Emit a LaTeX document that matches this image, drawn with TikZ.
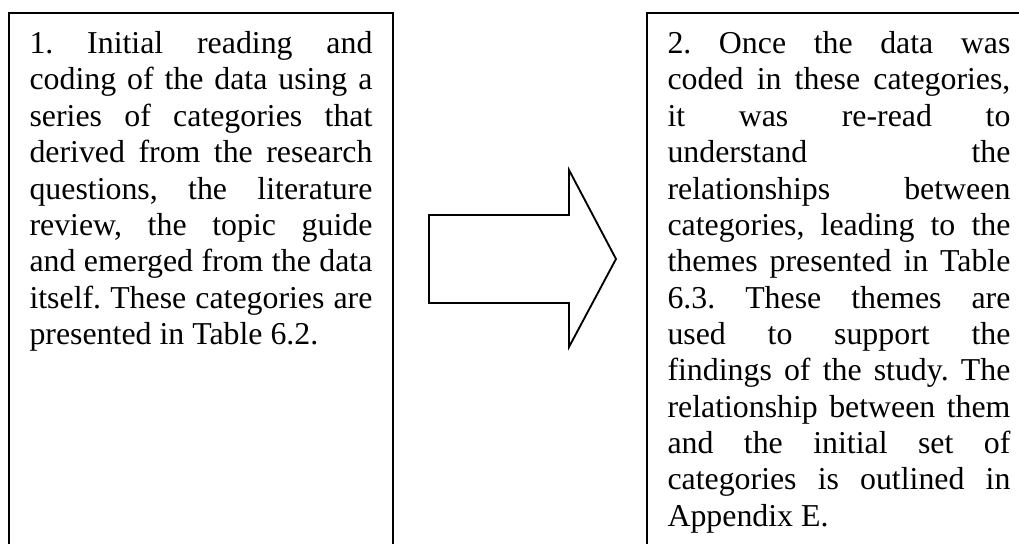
\documentclass[tikz,border=0pt]{standalone}
\usepackage{fontspec}
\setmainfont{Liberation Serif}
\usepackage{tikz}
\tikzset{
    boxtext/.style={anchor=north west, inner sep=0pt, text width=129.2pt, align=justify,
        font=\fontsize{12}{13.7}\selectfont,
        execute at begin node={\hyphenpenalty=10000 \tolerance=10000 \frenchspacing}},
    frame/.style={line width=0.7pt},
}

\begin{document}
\begin{tikzpicture}[x=0.3768pt, y=-0.3768pt]
        \useasboundingbox (0, 0) rectangle (1019, 544);

        % the two boxes, open at the bottom
        \draw[frame] (9, 544) -- (9, 13) -- (393, 13) -- (393, 544);
        \draw[frame] (647, 544) -- (647, 13) -- (1019, 13);

        \draw (29, 31) node(1)[boxtext]{1. Initial reading and\linebreak
            coding of the data using a\linebreak
            series of categories that\linebreak
            derived from the research\linebreak
            questions, the literature\linebreak
            review, the topic guide\linebreak
            and emerged from the data\linebreak
            itself. These categories are\linebreak
            presented in Table 6.2.};

        \draw (667, 31) node(2)[boxtext]{2. Once the data was\linebreak
            coded in these categories,\linebreak
            it was re-read to\linebreak
            understand the\linebreak
            relationships between\linebreak
            categories, leading to the\linebreak
            themes presented in Table\linebreak
            6.3. These themes are\linebreak
            used to support the\linebreak
            findings of the study. The\linebreak
            relationship between them\linebreak
            and the initial set of\linebreak
            categories is outlined in\linebreak
            Appendix E.};

        % block arrow
        \draw[frame, line join=miter] (429, 215) -- (569, 215) -- (569, 170) -- (616, 259)
            -- (569, 347) -- (569, 303) -- (429, 303) -- cycle;
    \end{tikzpicture}
\end{document}
